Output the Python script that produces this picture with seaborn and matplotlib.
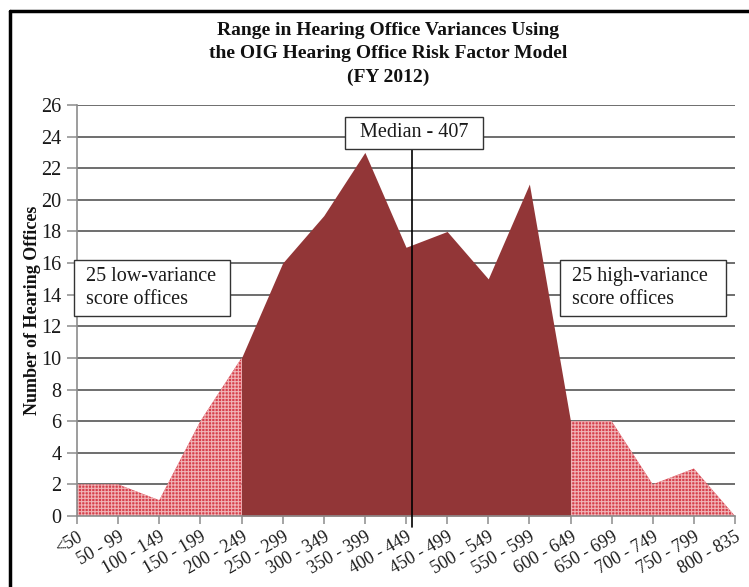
import numpy as np
import matplotlib
matplotlib.use("Agg")
import matplotlib.pyplot as plt
from matplotlib.lines import Line2D
from matplotlib.patches import Rectangle
import seaborn as sns

# Score ranges (hearing office variance score bins) and office counts
categories = ["<50", "50 - 99", "100 - 149", "150 - 199", "200 - 249",
              "250 - 299", "300 - 349", "350 - 399", "400 - 449", "450 - 499",
              "500 - 549", "550 - 599", "600 - 649", "650 - 699", "700 - 749",
              "750 - 799", "800 - 835"]
offices = [2, 2, 1, 6, 10, 16, 19, 23, 17, 18, 15, 21, 6, 6, 2, 3, 0]

# Bins holding the 25 low- and 25 high-variance offices
low_last_bin = "200 - 249"
high_first_bin = "600 - 649"

median_score = 407
median_bin = "400 - 449"
bin_width = 50

y_ticks = list(range(0, 27, 2))

title = ("Range in Hearing Office Variances Using\n"
         "the OIG Hearing Office Risk Factor Model\n"
         "(FY 2012)")
y_label = "Number of Hearing Offices"
low_note = "25 low-variance\nscore offices"
high_note = "25 high-variance\nscore offices"
median_note = f"Median - {median_score}"

sns.set_theme(style="white")
plt.rcParams["font.family"] = ["Liberation Serif", "DejaVu Serif"]
plt.rcParams["hatch.linewidth"] = 0.8

W, H = 749, 587
fig = plt.figure(figsize=(W / 100, H / 100), dpi=100)
ax = fig.add_axes([77 / W, 1 - 516 / H, (735 - 77) / W, (516 - 105) / H])

x = np.arange(len(categories))
y = np.array(offices, dtype=float)
lo = categories.index(low_last_bin)
hi = categories.index(high_first_bin)

dark = "#923637"
light = "#d63f4b"
hatch_col = "#f0b3b6"

# grid first so the areas sit on top of it
for t in y_ticks:
    ax.axhline(t, color="#474747", lw=1.1, zorder=0)

ax.fill_between(x[:lo + 1], y[:lo + 1], 0, facecolor=light, edgecolor=hatch_col,
                hatch="+++++", linewidth=0, zorder=2)
ax.fill_between(x[hi:], y[hi:], 0, facecolor=light, edgecolor=hatch_col,
                hatch="+++++", linewidth=0, zorder=2)
ax.fill_between(x[lo:hi + 1], y[lo:hi + 1], 0, color=dark, linewidth=0, zorder=3)

ax.set_xlim(0, len(categories) - 1)
ax.set_ylim(0, 26)
ax.set_yticks(y_ticks)
ax.set_xticks(x)
ax.set_xticklabels(categories, rotation=30, ha="right", va="top",
                   rotation_mode="anchor", fontsize=13)
ax.tick_params(axis="y", labelsize=14.5, length=7, width=1.1, color="#8c8c8c",
               direction="out", left=True, pad=4)
ax.tick_params(axis="x", length=6, width=1.1, color="#8c8c8c",
               direction="out", bottom=True, pad=3)
for lab in ax.get_xticklabels():
    lab.set_color("#1a1a1a")
for lab in ax.get_yticklabels():
    lab.set_color("#1a1a1a")

sns.despine(ax=ax, top=True, right=True)
for side in ("left", "bottom"):
    ax.spines[side].set_color("#8c8c8c")
    ax.spines[side].set_linewidth(1.2)
    ax.spines[side].set_zorder(4)

ax.set_ylabel(y_label, fontsize=13, fontweight="bold", labelpad=0,
              color="#111111")

# median marker line and label box
mx = categories.index(median_bin) + (median_score - int(median_bin.split()[0])) / bin_width
ax.plot([mx, mx], [-0.7, 23.3], color="black", lw=1.2, zorder=5, clip_on=False)

def note_box(x0, x1, y0, y1, text, tx, ha="left"):
    bx0 = (x0 - 77) / 658
    bx1 = (x1 - 77) / 658
    by0 = (516 - y1) / 411
    by1 = (516 - y0) / 411
    ax.add_patch(Rectangle((bx0, by0), bx1 - bx0, by1 - by0,
                           transform=ax.transAxes, facecolor="white",
                           edgecolor="#333333", lw=1.0, zorder=6,
                           clip_on=False))
    ax.text((tx - 77) / 658, (by0 + by1) / 2, text, transform=ax.transAxes,
            ha=ha, va="center", fontsize=14.5, color="#1a1a1a", zorder=7,
            linespacing=1.3)

note_box(74, 230, 260, 316, low_note, 86)
note_box(560, 726, 260, 316, high_note, 572)
note_box(345, 483, 117, 149, median_note, 414, ha="center")

fig.text(388 / W, 1 - 22 / H, title, ha="center", va="top", fontsize=14,
         fontweight="bold", linespacing=1.5, color="#111111")

# outer chart frame
fig.add_artist(Line2D([10 / W, 1.0], [1 - 11 / H, 1 - 11 / H], color="black",
                      lw=2.5, transform=fig.transFigure))
fig.add_artist(Line2D([10 / W, 10 / W], [0.0, 1 - 11 / H], color="black",
                      lw=2.5, transform=fig.transFigure))

fig.savefig("out.png", dpi=100, facecolor="white")
